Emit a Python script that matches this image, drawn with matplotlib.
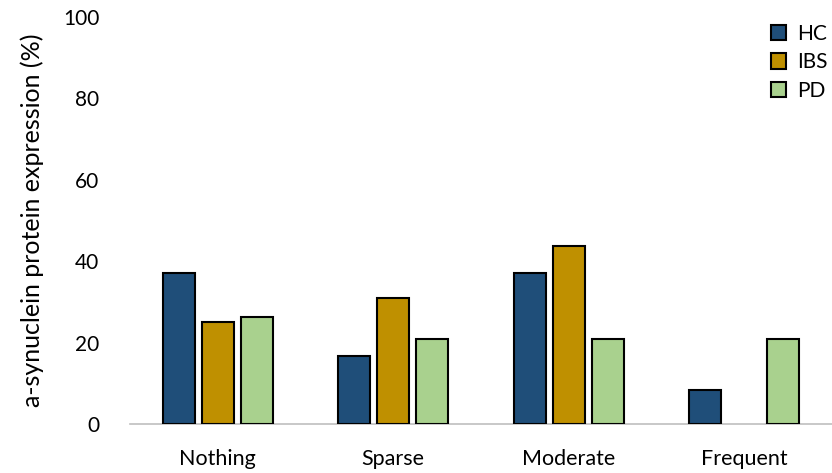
import matplotlib
matplotlib.use("Agg")
import matplotlib.pyplot as plt
import numpy as np

categories = ["Nothing", "Sparse", "Moderate", "Frequent"]
series_names = ["HC", "IBS", "PD"]
hc = [37.0, 16.7, 37.0, 8.3]
ibs = [25.0, 31.0, 43.75, np.nan]
pd_vals = [26.3, 21.0, 21.0, 21.0]
yticks = [0, 20, 40, 60, 80, 100]
colors = ["#1F4E79", "#BF9000", "#A9D18E"]

plt.rcParams['font.family'] = ['Lato', 'DejaVu Sans']

fig = plt.figure(figsize=(8.32, 4.73), dpi=100)
ax = fig.add_axes([130/832, 49/473, 702/832, 407/473])

x = np.arange(len(categories))
width = 0.182
pitch = 0.222
for i, (vals, name) in enumerate(zip([hc, ibs, pd_vals], series_names)):
    ax.bar(x + (i - 1) * pitch, vals, width, color=colors[i], edgecolor="black",
           linewidth=1.5, label=name, zorder=3)

ax.set_xlim(-0.5, len(categories) - 0.5)
ax.set_ylim(0, 100)
ax.set_yticks(yticks)
ax.set_yticklabels([str(t) for t in yticks], fontsize=15)
ax.set_xticks(x)
ax.set_xticklabels(categories, fontsize=15.5)
ax.tick_params(axis="both", length=0)
ax.tick_params(axis="y", pad=22)
ax.tick_params(axis="x", pad=18)
for s in ["left", "right", "top"]:
    ax.spines[s].set_visible(False)
ax.spines["bottom"].set_color("#BFBFBF")
ax.spines["bottom"].set_linewidth(1.2)
ax.set_ylabel("a-synuclein protein expression (%)", fontsize=18, labelpad=14)

leg = ax.legend(loc="upper right", bbox_to_anchor=(1.02, 1.03), frameon=False,
                fontsize=15, handlelength=0.75, handleheight=0.75,
                handletextpad=0.5, labelspacing=0.42)

fig.savefig("out.png", dpi=100)
